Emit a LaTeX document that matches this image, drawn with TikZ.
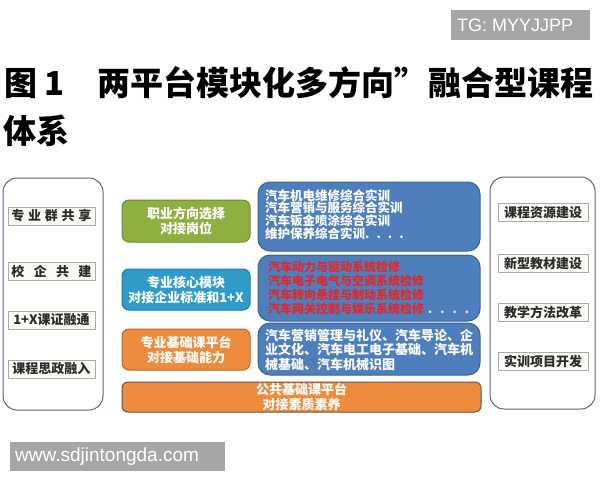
\documentclass[tikz,border=0pt]{standalone}
\usepackage{fontspec}
\setmainfont{Noto Sans CJK SC}
\newfontfamily\wmfont{Liberation Sans}
\usepackage{xcolor}

\definecolor{panelline}{HTML}{5A6475}
\definecolor{itemline}{HTML}{A8AE9A}
\definecolor{itemfill}{HTML}{FAFAF6}
\definecolor{itemtext}{HTML}{2B2B2B}
\definecolor{greenbox}{HTML}{8DB040}
\definecolor{greenline}{HTML}{6F8C2E}
\definecolor{tealbox}{HTML}{2F9BC8}
\definecolor{tealline}{HTML}{23799E}
\definecolor{orangebox}{HTML}{EE8B3D}
\definecolor{orangeline}{HTML}{B8652A}
\definecolor{barline}{HTML}{5F5550}
\definecolor{coursebox}{HTML}{4E7FBC}
\definecolor{courseline}{HTML}{3A6297}
\definecolor{redtext}{HTML}{E3262B}
\definecolor{wmgray}{HTML}{A6A6A6}

\tikzset{
  panel/.style={draw=panelline, line width=1pt, rounded corners=14pt, fill=white},
  item/.style={draw=itemline, fill=itemfill, line width=0.8pt, inner sep=0pt, minimum height=18pt, text=itemtext, font=\fontsize{13}{15}\selectfont\bfseries},
  module/.style={line width=1pt, rounded corners=7pt, inner sep=0pt, minimum width=128pt, minimum height=41pt, align=center, text=white, font=\fontsize{13}{15}\selectfont\bfseries},
  course/.style={draw=courseline, fill=coursebox, line width=1pt, rounded corners=12pt},
  list/.style={anchor=north west, inner sep=0pt, align=left, text=white},
  wmark/.style={fill=wmgray, text=white, inner sep=0pt, anchor=west, font=\wmfont\fontsize{18}{20}\selectfont}
}

\begin{document}
\begin{tikzpicture}[x=1pt,y=1pt,yscale=-1]
  \useasboundingbox (0,0) rectangle (600,480);

  % Watermark top
  \fill [wmgray] (451,10) rectangle (590,40);
  \node (tgmark) [wmark] at (457,25) {TG: MYYJJPP};

  % Title
  \node (titlefig) [anchor=base west, inner sep=0pt, font=\fontsize{33}{40}\selectfont\bfseries] at (4,95) {图\hspace{7pt}1};
  \node (titlea) [anchor=base west, inner sep=0pt, font=\fontsize{33}{40}\selectfont\bfseries] at (97,95) {两平台模块化多方向”};
  \node (titleb) [anchor=base west, inner sep=0pt, font=\fontsize{33}{40}\selectfont\bfseries] at (428,95) {融合型课程};
  \node (titlec) [anchor=base west, inner sep=0pt, font=\fontsize{33}{40}\selectfont\bfseries] at (3,143) {体系};

  %Shape: Left panel
  \draw [panel] (3,178) rectangle (103,410);
  \node (share) [item, minimum width=87pt] at (51.5,216) {\makebox[80pt][s]{专\hfill 业\hfill 群\hfill 共\hfill 享}};
  \node (coop) [item, minimum width=87pt] at (51.5,271) {\makebox[80pt][s]{校\hfill 企\hfill 共\hfill 建}};
  \node (certx) [item, minimum width=87pt] at (51.5,320) {1+X课证融通};
  \node (ideo) [item, minimum width=87pt] at (51.5,369) {课程思政融入};

  %Shape: Right panel
  \draw [panel] (490,177) rectangle (595,409);
  \node (resource) [item, minimum width=90pt] at (543,212.5) {课程资源建设};
  \node (textbook) [item, minimum width=90pt] at (543,263.5) {新型教材建设};
  \node (method) [item, minimum width=90pt] at (543,312.5) {教学方法改革};
  \node (project) [item, minimum width=90pt] at (543,361) {实训项目开发};

  %Shape: Modules
  \node (career) [module, draw=greenline, fill=greenbox, minimum height=42pt] at (186,221) {职业方向选择\\对接岗位};
  \node (core) [module, draw=tealline, fill=tealbox] at (186,289.5) {专业核心模块\\对接企业标准和1+X};
  \node (base) [module, draw=orangeline, fill=orangebox] at (186,349.5) {专业基础课平台\\对接基础能力};

  %Shape: Public platform bar
  \node (public) [module, draw=barline, fill=orangebox, rounded corners=6pt, minimum width=359pt, minimum height=30pt, font=\fontsize{13}{14.5}\selectfont\bfseries] at (301.5,397) {公共基础课平台\\对接素质素养};

  %Shape: Course lists
  \draw [course] (258,182) rectangle (480,251);
  \draw [course] (258,255) rectangle (480,321);
  \draw [course] (258,323) rectangle (480,375);

  % Text Node
  \node (training) [list, font=\fontsize{12.5}{12.8}\selectfont\bfseries] at (265,189) {汽车机电维修综合实训\\汽车营销与服务综合实训\\汽车钣金喷涂综合实训\\维护保养综合实训.\hspace{7pt}.\hspace{7pt}.\hspace{7pt}.};
  % Text Node
  \node (repair) [list, text=redtext, font=\fontsize{12}{14}\selectfont\bfseries] at (268,260.5) {汽车动力与驱动系统检修\\汽车电子电气与空调系统检修\\汽车转向悬挂与制动系统检修\\汽车网关控制与娱乐系统检修\textcolor{white!85!gray}{\hspace{4pt}.\hspace{8pt}.\hspace{8pt}.\hspace{8pt}.}};
  % Text Node
  \node (basics) [list, font=\fontsize{13}{14.5}\selectfont\bfseries] at (265,329) {汽车营销管理与礼仪、汽车导论、企\\业文化、汽车电工电子基础、汽车机\\械基础、汽车机械识图};

  % Watermark bottom
  \fill [wmgray] (10,442) rectangle (225,471);
  \node (sitemark) [wmark, font=\wmfont\fontsize{19}{21}\selectfont] at (15,456.5) {www.sdjintongda.com};
\end{tikzpicture}
\end{document}
